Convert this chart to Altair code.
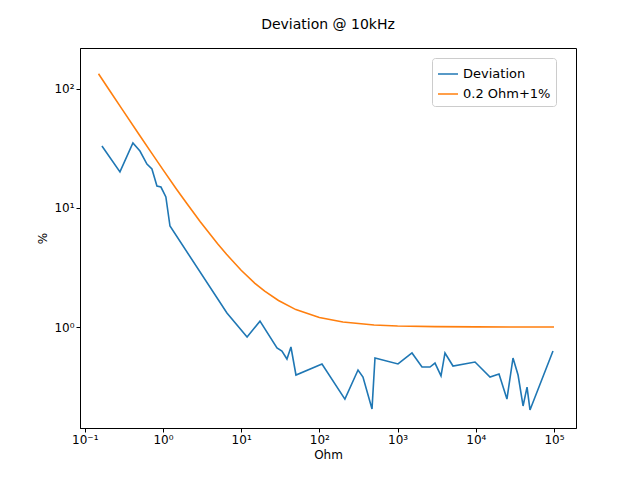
import altair as alt
import pandas as pd

dev_ohm = [0.166, 0.282, 0.413, 0.508, 0.624, 0.723, 0.838, 0.943, 1.09, 1.23, 6.58, 11.9, 17.4,
           28.7, 33.2, 38.5, 43.3, 50.2, 108, 212, 312, 361, 471, 514, 1012, 1528, 2051, 2595,
           3008, 3590, 4035, 5108, 9770, 15200, 19800, 25000, 29900, 34700, 40200, 45200, 49300, 97000]
dev_pct = [33.2, 20.1, 35.2, 30.1, 23.4, 21.3, 15.3, 15.0, 12.4, 7.06, 1.31, 0.824, 1.12,
           0.666, 0.628, 0.538, 0.679, 0.395, 0.489, 0.248, 0.435, 0.380, 0.205, 0.549, 0.489,
           0.605, 0.461, 0.461, 0.498, 0.388, 0.605, 0.470, 0.508, 0.380, 0.403, 0.248, 0.549,
           0.395, 0.217, 0.313, 0.201, 0.628]

lim_ohm = [0.15, 0.2, 0.3, 0.5, 0.7, 1, 1.5, 2, 3, 5, 6.5, 10, 15, 20, 30, 50, 100, 200, 500,
           1000, 3000, 10000, 100000]
lim_pct = [134.3, 101, 67.7, 41, 29.6, 21, 14.3, 11, 7.67, 5, 4.08, 3, 2.33, 2, 1.67, 1.4, 1.2,
           1.1, 1.04, 1.02, 1.007, 1.002, 1.0]

df = pd.concat([
    pd.DataFrame({"ohm": dev_ohm, "pct": dev_pct, "series": "Deviation"}),
    pd.DataFrame({"ohm": lim_ohm, "pct": lim_pct, "series": "0.2 Ohm+1%"}),
])

sup = {-1: "10⁻¹", 0: "10⁰", 1: "10¹", 2: "10²", 3: "10³", 4: "10⁴", 5: "10⁵"}
expr = "''"
for k, v in sup.items():
    expr = f"round(log(datum.value)/LN10)=={k} ? '{v}' : ({expr})"

font = "DejaVu Sans"
chart = (
    alt.Chart(df)
    .mark_line(strokeWidth=1.6, clip=True)
    .encode(
        alt.X("ohm:Q", title="Ohm",
              scale=alt.Scale(type="log", domain=[0.087, 191000], nice=False),
              axis=alt.Axis(values=[0.1, 1, 10, 100, 1000, 10000, 100000], labelExpr=expr,
                            grid=False, labelFlush=False)),
        alt.Y("pct:Q", title="%",
              scale=alt.Scale(type="log", domain=[0.1417, 221], nice=False),
              axis=alt.Axis(values=[1, 10, 100], labelExpr=expr, grid=False, labelFlush=False)),
        color=alt.Color("series:N", sort=["Deviation", "0.2 Ohm+1%"],
                        scale=alt.Scale(domain=["Deviation", "0.2 Ohm+1%"],
                                        range=["#1f77b4", "#ff7f0e"]),
                        legend=alt.Legend(title=None, orient="none", legendX=352, legendY=10,
                                          strokeColor="#cccccc", fillColor="white",
                                          padding=5, cornerRadius=3, symbolType="stroke",
                                          symbolSize=400, labelFontSize=13, labelFont=font)),
        detail="series:N",
    )
    .properties(width=496, height=380,
                title=alt.TitleParams("Deviation @ 10kHz", fontSize=14, fontWeight="normal",
                                      font=font, anchor="middle", offset=16),
                padding={"left": 72, "top": 40, "right": 56, "bottom": 52},
                autosize=alt.AutoSizeParams(type="none"))
    .configure_view(stroke="black", strokeWidth=1)
    .configure_axis(labelFont=font, titleFont=font, labelFontSize=12, titleFontSize=12,
                    titleFontWeight="normal", domainColor="black", tickColor="black",
                    labelColor="black", titleColor="black", tickSize=4)
)
chart.save("out.html", embed_options={"renderer": "svg", "actions": False})
